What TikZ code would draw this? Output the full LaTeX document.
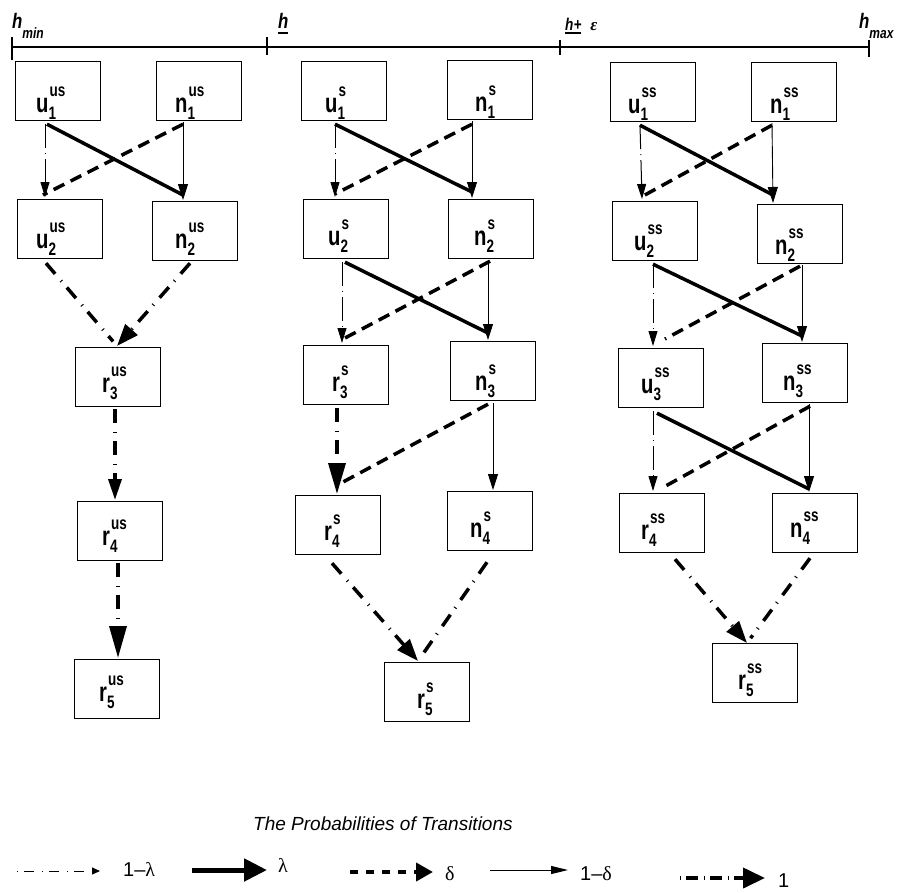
\documentclass[tikz,border=0pt]{standalone}
\usepackage{fontspec}
\usepackage{graphicx}
\setmainfont{Liberation Sans}
\newfontfamily\narrowsf[FakeStretch=0.75]{Liberation Sans}
\newfontfamily\axisf[FakeStretch=0.8]{Liberation Sans}
\newfontfamily\greekf{Liberation Serif}
\usetikzlibrary{arrows.meta,calc}

% state label: main letter with superscript and subscript
\newcommand\mainlet{\narrowsf\bfseries\fontsize{27}{27}\selectfont}
\newcommand\scrlet{\narrowsf\bfseries\fontsize{18}{18}\selectfont}
\newcommand\stlab[3]{{\mainlet #1}\rlap{\kern1pt\raisebox{15.7pt}{\scrlet #2}}\raisebox{-7.3pt}{\scrlet #3}}

% axis label fonts
\newcommand\axh{\axisf\bfseries\itshape\fontsize{21}{21}\selectfont}
\newcommand\axhs{\axisf\bfseries\itshape\fontsize{17}{17}\selectfont}
\newcommand\axs{\bfseries\itshape\fontsize{15}{15}\selectfont}
\newlength\ulw
\newcommand\ulbox[2]{\settowidth\ulw{#2}\rlap{\raisebox{#1}{\rule{\ulw}{1.6pt}}}#2}

% legend font
\newcommand\legf{\fontsize{20}{20}\selectfont}

\tikzset{
  box/.style={draw, line width=1.2pt, minimum width=85pt, minimum height=59pt,
    inner sep=0pt, anchor=north west},
  lab/.style={anchor=base west, inner sep=0pt},
  pa/.style={line width=1pt, dash pattern=on 24pt off 5pt on 1pt off 5pt,
    -{Triangle[length=15pt,width=9pt]}},
  pl/.style={line width=3.5pt},
  pd/.style={line width=3.5pt, dash pattern=on 12pt off 7pt},
  pn/.style={line width=0.9pt, -{Triangle[length=16pt,width=10pt]}},
  ponebase/.style={line width=3.5pt, dash pattern=on 14pt off 9pt on 1pt off 8pt},
  pone/.style={ponebase, -{Triangle[length=22pt,width=16pt]}},
  ponen/.style={ponebase, shorten >=6pt},
  axisline/.style={line width=1.3pt},
  legtxt/.style={anchor=base west, inner sep=0pt, font=\legf},
}

\newcommand\stbox[8]{%
  \node[box] (#1) at (#2,#3) {};
  \node[lab] (#1-t) at ($(#1.north west)+(#7,#8)$) {\stlab{#4}{#5}{#6}};
}

\begin{document}
\begin{tikzpicture}[x=1pt, y=-1pt]
\useasboundingbox (0,0) rectangle (905,892);

% threshold axis
\draw[axisline] (12,47) -- (869,47);
\draw[axisline] (12,37) -- (12,60);
\draw[axisline] (267,37) -- (267,55);
\draw[axisline] (560,40) -- (560,55);
\draw[axisline] (869,40) -- (869,57);
\node[lab] (hmin) at (12,28) {\axh h\raisebox{-10pt}{\axs min}};
\node[lab] (hbar) at (278,28) {\ulbox{-5.8pt}{\axh h}};
\node[lab] (hplus) at (565,30) {\ulbox{-3.8pt}{\axhs h+}\hspace{9pt}{\greekf\fontsize{17}{17}\selectfont ε}};
\node[lab] (hmax) at (859,28) {\axh h\raisebox{-10pt}{\axs max}};

% states, column "us"
\stbox{u1us}{15}{61}{u}{us}{1}{21}{51}
\stbox{n1us}{156}{61}{n}{us}{1}{19}{51}
\stbox{u2us}{17}{199}{u}{us}{2}{19}{49}
\stbox{n2us}{152}{201}{n}{us}{2}{23}{47}
\stbox{r3us}{75}{347}{r}{us}{3}{27}{45}
\stbox{r4us}{77}{501}{r}{us}{4}{25}{44}
\stbox{r5us}{74}{659}{r}{us}{5}{25}{42}

% states, column "s"
\stbox{u1s}{301}{61}{u}{s}{1}{24}{51}
\stbox{n1s}{447}{60}{n}{s}{1}{28}{51}
\stbox{u2s}{303}{199}{u}{s}{2}{25}{46}
\stbox{n2s}{448}{199}{n}{s}{2}{26}{46}
\stbox{r3s}{303}{345}{r}{s}{3}{29}{46}
\stbox{n3s}{450}{341}{n}{s}{3}{25}{49}
\stbox{r4s}{295}{495}{r}{s}{4}{29}{45}
\stbox{n4s}{447}{491}{n}{s}{4}{23}{46}
\stbox{r5s}{384}{662}{r}{s}{5}{33}{46}

% states, column "ss"
\stbox{u1ss}{610}{62}{u}{ss}{1}{18}{51}
\stbox{n1ss}{751}{62}{n}{ss}{1}{19}{51}
\stbox{u2ss}{612}{201}{u}{ss}{2}{22}{49}
\stbox{n2ss}{757}{204}{n}{ss}{2}{18}{50}
\stbox{u3ss}{618}{348}{u}{ss}{3}{23}{45}
\stbox{n3ss}{762}{343}{n}{ss}{3}{21}{47}
\stbox{r4ss}{619}{493}{r}{ss}{4}{22}{46}
\stbox{n4ss}{772}{493}{n}{ss}{4}{18}{44}
\stbox{r5ss}{712}{643}{r}{ss}{5}{26}{46}

% transitions, column "us"
\draw[pl] ($(u1us.south west)+(32,3)$) -- ($(n2us.north west)+(31,-6)$);
\draw[pd] ($(n1us.south west)+(27,3)$) -- ($(u2us.north west)+(26,-4)$);
\draw[pa] ($(u1us.south west)+(30,3)$) -- ($(u2us.north west)+(28,-2)$);
\draw[pn] ($(n1us.south west)+(27,1)$) -- ($(n2us.north west)+(31,-1)$);
\draw[ponen] ($(u2us.south west)+(29,4)$) -- ($(r3us.north west)+(42,-1)$);
\draw[pone] ($(n2us.south west)+(38,2)$) -- ($(r3us.north west)+(42,-1)$);
\draw[ponebase, -{Triangle[length=21pt,width=13pt]}] ($(r3us.south west)+(40,2)$) -- ($(r4us.north west)+(38,-1)$);
\draw[ponebase, -{Triangle[length=32pt,width=17pt]}] ($(r4us.south west)+(41,2)$) -- ($(r5us.north west)+(44,-1)$);

% transitions, column "s"
\draw[pl] ($(u1s.south west)+(34,3)$) -- ($(n2s.north west)+(24,-7)$);
\draw[pd] ($(n1s.south west)+(25,4)$) -- ($(u2s.north west)+(32,-5)$);
\draw[pa] ($(u1s.south west)+(34,3)$) -- ($(u2s.north west)+(32,-2)$);
\draw[pn] ($(n1s.south west)+(25,1)$) -- ($(n2s.north west)+(24,-1)$);
\draw[pl] ($(u2s.south west)+(42,3)$) -- ($(n3s.north west)+(38,-8)$);
\draw[pd] ($(n2s.south west)+(42,2)$) -- ($(r3s.north west)+(42,-7)$);
\draw[pa] ($(u2s.south west)+(39,3)$) -- ($(r3s.north west)+(39,-2)$);
\draw[pn] ($(n2s.south west)+(40,1)$) -- ($(n3s.north west)+(38,-1)$);
\draw[ponebase, -{Triangle[length=31pt,width=17pt]}] ($(r3s.south west)+(34,3)$) -- ($(r4s.north west)+(42,-1)$);
\draw[pd] ($(n3s.south west)+(38,3)$) -- ($(r4s.north west)+(48,-13)$);
\draw[pn] ($(n3s.south west)+(43,2)$) -- ($(n4s.north west)+(46,-1)$);
\draw[pone] ($(r4s.south west)+(37,8)$) -- ($(r5s.north west)+(34,-1)$);
\draw[ponen] ($(n4s.south west)+(40,11)$) -- ($(r5s.north west)+(34,-1)$);

% transitions, column "ss"
\draw[pl] ($(u1ss.south west)+(30,3)$) -- ($(n2ss.north west)+(16,-9)$);
\draw[pd] ($(n1ss.south west)+(21,3)$) -- ($(u2ss.north west)+(31,-5)$);
\draw[pa] ($(u1ss.south west)+(30,3)$) -- ($(u2ss.north west)+(30,-2)$);
\draw[pn] ($(n1ss.south west)+(21,1)$) -- ($(n2ss.north west)+(16,-1)$);
\draw[pl] ($(u2ss.south west)+(41,3)$) -- ($(n3ss.north west)+(40,-7)$);
\draw[pd] ($(n2ss.south west)+(43,2)$) -- ($(u3ss.north west)+(47,-9)$);
\draw[pa] ($(u2ss.south west)+(41,3)$) -- ($(u3ss.north west)+(35,-2)$);
\draw[pn] ($(n2ss.south west)+(45,1)$) -- ($(n3ss.north west)+(40,-1)$);
\draw[pl] ($(u3ss.south west)+(39,5)$) -- ($(n4ss.north west)+(37,-4)$);
\draw[pd] ($(n3ss.south west)+(48,3)$) -- ($(r4ss.north west)+(43,-5)$);
\draw[pa] ($(u3ss.south west)+(35,3)$) -- ($(r4ss.north west)+(34,-2)$);
\draw[pn] ($(n3ss.south west)+(47,1)$) -- ($(n4ss.north west)+(37,-1)$);
\draw[pone] ($(r4ss.south west)+(56,6)$) -- ($(r5ss.north west)+(35,0)$);
\draw[ponen] ($(n4ss.south west)+(38,5)$) -- ($(r5ss.north west)+(35,0)$);

% legend
\node[anchor=base west, inner sep=0pt, font=\itshape\fontsize{19}{19}\selectfont] (legtitle) at (253,830) {The Probabilities of Transitions};

\coordinate (la1) at (17,871);  \coordinate (la2) at (100,871);
\draw[line width=1pt, dash pattern=on 1pt off 6pt on 10pt off 8pt, -{Triangle[length=8pt,width=7pt]}] (la1) -- (la2);
\node[legtxt] (lt1) at (123,876) {1–{\greekf λ}};

\coordinate (lb1) at (192,870); \coordinate (lb2) at (267,870);
\draw[line width=5pt, -{Triangle[length=23pt,width=22pt]}] (lb1) -- (lb2);
\node[legtxt] (lt2) at (278,872) {\greekf λ};

\coordinate (lc1) at (350,872); \coordinate (lc2) at (433,872);
\draw[line width=4pt, dash pattern=on 8pt off 8pt, -{Triangle[length=17pt,width=18pt]}] (lc1) -- (lc2);
\node[legtxt] (lt3) at (445,880) {\greekf δ};

\coordinate (ld1) at (490,870); \coordinate (ld2) at (568,870);
\draw[line width=1pt, -{Triangle[length=17pt,width=8pt]}] (ld1) -- (ld2);
\node[legtxt] (lt4) at (580,880) {1–{\greekf δ}};

\coordinate (le1) at (680,878); \coordinate (le2) at (765,878);
\draw[line width=4pt, dash pattern=on 1pt off 5pt on 12pt off 6pt, -{Triangle[length=22pt,width=20pt]}] (le1) -- (le2);
\node[legtxt] (lt5) at (778,887) {1};
\end{tikzpicture}
\end{document}
